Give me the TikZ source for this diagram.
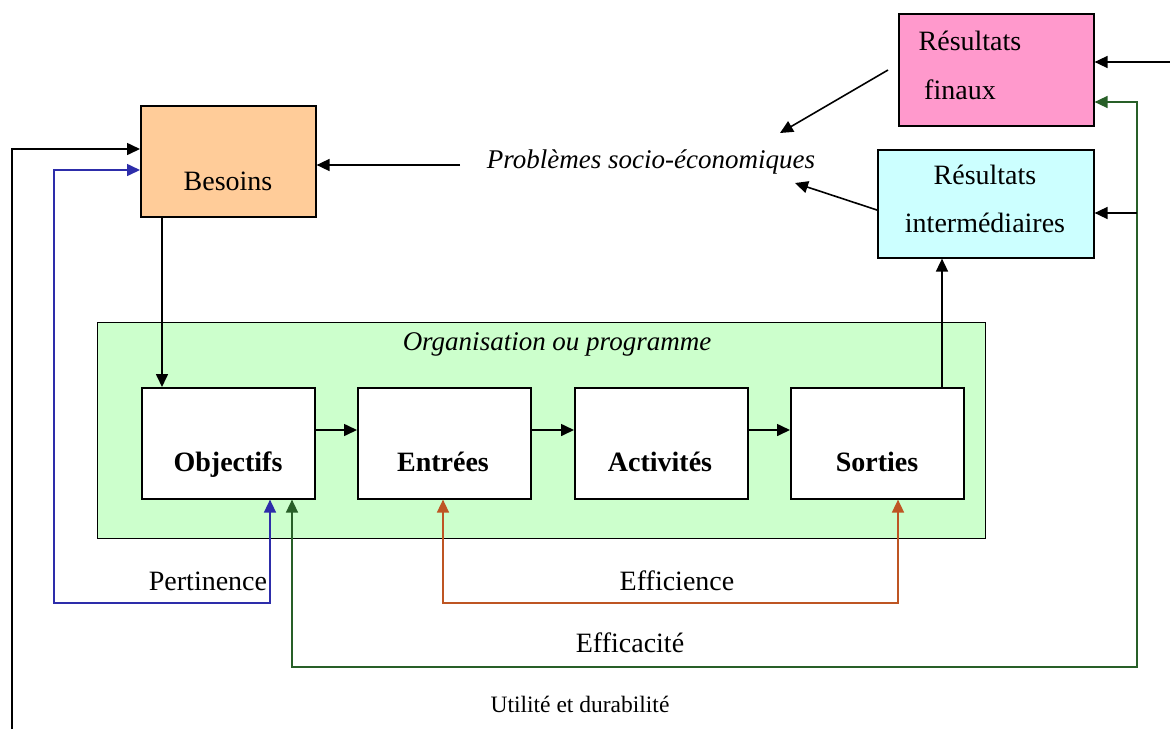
\documentclass[tikz,border=0pt]{standalone}
\usepackage{fontspec}
\setmainfont{Liberation Serif}
\usetikzlibrary{arrows.meta}
\definecolor{besoinsfill}{RGB}{255,204,153}
\definecolor{finauxfill}{RGB}{255,153,204}
\definecolor{interfill}{RGB}{204,255,255}
\definecolor{orgfill}{RGB}{204,255,204}
\definecolor{pertblue}{RGB}{45,45,170}
\definecolor{efforange}{RGB}{190,85,35}
\definecolor{efficgreen}{RGB}{40,95,40}
\tikzset{
  box/.style={draw=black, line width=1.6pt, rectangle, inner sep=0pt, anchor=north west},
  lbl/.style={anchor=base, inner sep=0pt, font=\fontsize{28}{32}\selectfont},
  blbl/.style={lbl, font=\fontsize{28}{32}\selectfont\bfseries},
  ilbl/.style={lbl, font=\fontsize{27}{32}\selectfont\itshape},
  conn/.style={line width=1.6pt, -{Triangle[length=13pt,width=12pt]}},
  dconn/.style={line width=1.6pt, {Triangle[length=13pt,width=12pt]}-{Triangle[length=13pt,width=12pt]}}
}
\begin{document}
\begin{tikzpicture}[x=1pt,y=-1pt]
\useasboundingbox[fill=white] (0,0) rectangle (1170,729);

% container of the programme
\node[box, fill=orgfill, line width=1.2pt, minimum width=888pt, minimum height=216pt] (org) at (97,322) {};
\node[ilbl] (orglbl) at (557,350) {Organisation ou programme};

% main boxes
\node[box, fill=besoinsfill, minimum width=175pt, minimum height=111pt] (besoins) at (140,105) {};
\node[lbl] at (228,190) {Besoins};

\node[box, fill=finauxfill, minimum width=195pt, minimum height=112pt] (finaux) at (898,13) {};
\node[lbl] at (970,50) {Résultats};
\node[lbl] at (960,99) {finaux};

\node[box, fill=interfill, minimum width=216pt, minimum height=108pt] (inter) at (877,149) {};
\node[lbl] at (985,184) {Résultats};
\node[lbl] at (985,232) {intermédiaires};

\node[box, fill=white, minimum width=173pt, minimum height=111pt] (objectifs) at (141,387) {};
\node[box, fill=white, minimum width=173pt, minimum height=111pt] (entrees) at (357,387) {};
\node[box, fill=white, minimum width=173pt, minimum height=111pt] (activites) at (574,387) {};
\node[box, fill=white, minimum width=173pt, minimum height=111pt] (sorties) at (790,387) {};
\node[blbl] at (228,471) {Objectifs};
\node[blbl] at (443,471) {Entrées};
\node[blbl] at (660,471) {Activités};
\node[blbl] at (877,471) {Sorties};

\node[ilbl] (probl) at (651,168) {Problèmes socio-économiques};

% chain inside the programme
\draw[conn] (objectifs.east |- 0,430) -- (entrees.west |- 0,430);
\draw[conn] (entrees.east |- 0,430) -- (activites.west |- 0,430);
\draw[conn] (activites.east |- 0,430) -- (sorties.west |- 0,430);

% needs and outcomes
\draw[conn] (besoins.south -| 162,0) -- (objectifs.north -| 162,0);
\draw[conn] (sorties.north -| 942,0) -- (inter.south -| 942,0);
\coordinate (problstart) at (460,165);
\draw[conn] (problstart) -- (besoins.east |- problstart);
\draw[conn] (finaux.west |- 0,70) ++(-10,0) -- (780,133);
\draw[conn] (inter.west |- 0,210) -- (795,183);

% evaluation loops
\draw[dconn, pertblue] (objectifs.south -| 270,0) -- (270,603) -- (54,603) -- (54,170) -- (besoins.west |- 0,170);
\node[lbl] at (208,590) {Pertinence};

\draw[dconn, efforange] (entrees.south -| 443,0) -- (443,603) -- (898,603) -- (sorties.south -| 898,0);
\node[lbl] at (677,590) {Efficience};

\coordinate (greenbend) at (1137,213);
\draw[dconn, efficgreen] (objectifs.south -| 292,0) -- (292,667) -- (1137,667) -- (1137,102) -- (finaux.east |- 0,102);
\node[lbl] at (630,652) {Efficacité};
\draw[conn] (greenbend) -- (inter.east |- greenbend);

\coordinate (utilstart) at (12,729);
\draw[conn] (utilstart) -- (12,149) -- (besoins.west |- 0,149);
\node[lbl, font=\fontsize{23.5}{27}\selectfont] at (580,712) {Utilité et durabilité};

\coordinate (finauxin) at (1170,62);
\draw[conn] (finauxin) -- (finaux.east |- finauxin);
\end{tikzpicture}
\end{document}
